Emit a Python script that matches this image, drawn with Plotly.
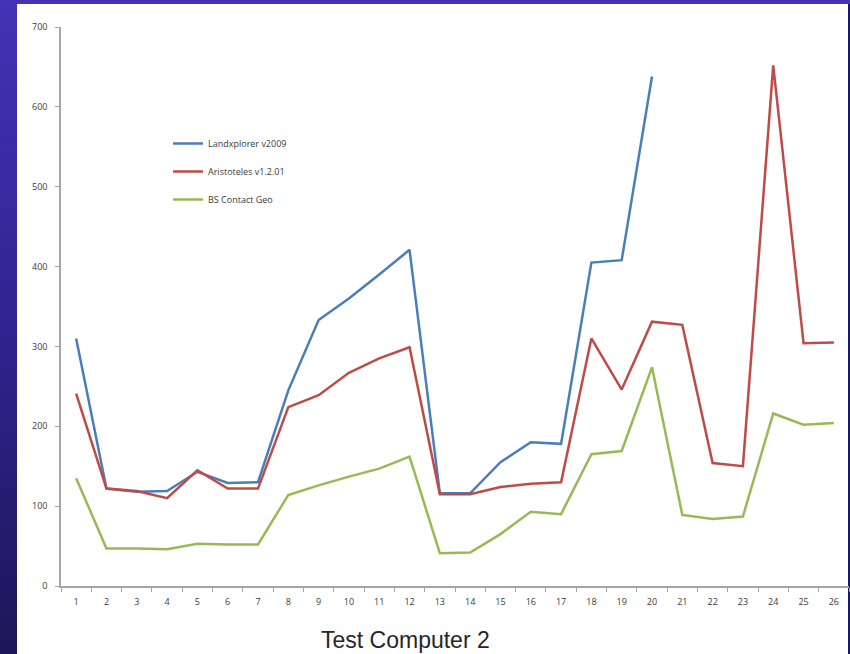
import base64
import plotly.graph_objects as go

categories = [str(i) for i in range(1, 27)]
landxplorer = [310, 122, 118, 119, 143, 129, 130, 245, 333, 360, 390, 421, 116, 116,
               155, 180, 178, 405, 408, 638, None, None, None, None, None, None]
aristoteles = [241, 122, 119, 110, 145, 122, 122, 224, 239, 267, 285, 299, 115, 115,
               124, 128, 130, 310, 246, 331, 327, 154, 150, 652, 304, 305]
bs_contact = [135, 47, 47, 46, 53, 52, 52, 114, 126, 137, 147, 162, 41, 42,
              65, 93, 90, 165, 169, 274, 89, 84, 87, 216, 202, 204]
y_ticks = [0, 100, 200, 300, 400, 500, 600, 700]
title_text = "Test Computer 2"

W, H = 850, 654
L, R, T, B = 61, 1, 27, 68
pw, ph = W - L - R, H - T - B

svg = f'''<svg xmlns="http://www.w3.org/2000/svg" width="{W}" height="{H}" viewBox="0 0 {W} {H}" preserveAspectRatio="none">
<defs><linearGradient id="g" x1="0" y1="0" x2="0" y2="1">
<stop offset="0" stop-color="#4333b6"/><stop offset="0.5" stop-color="#2f2490"/><stop offset="1" stop-color="#1c1758"/>
</linearGradient></defs>
<rect x="0" y="0" width="{W}" height="{H}" fill="url(#g)"/>
<rect x="17" y="4" width="832" height="{H}" fill="#ffffff"/>
<rect x="848" y="4" width="2" height="{H}" fill="#1c1868"/>
</svg>'''
src = "data:image/svg+xml;base64," + base64.b64encode(svg.encode()).decode()

fig = go.Figure()
series = [("Landxplorer v2009", landxplorer, "#4a7ebb"),
          ("Aristoteles v1.2.01", aristoteles, "#be4b48"),
          ("BS Contact Geo", bs_contact, "#98b954")]
for name, vals, col in series:
    fig.add_trace(go.Scatter(x=categories, y=vals, name=name, mode="lines",
                             line=dict(color=col, width=2.5), legendgroup=name,
                             connectgaps=False))

tickfont = dict(family="Open Sans", size=9, color="#3a3a3a")
fig.update_layout(
    width=W, height=H,
    margin=dict(l=L, r=R, t=T, b=B, pad=0),
    paper_bgcolor="#2f2490", plot_bgcolor="rgba(0,0,0,0)",
    images=[dict(source=src, xref="paper", yref="paper",
                 x=-L / pw, y=1 + T / ph, sizex=W / pw, sizey=H / ph,
                 xanchor="left", yanchor="top", sizing="stretch", layer="below")],
    xaxis=dict(type="category", range=[-0.5, 25.5], tickson="boundaries",
               ticks="outside", ticklen=4, tickcolor="#a6a6a6",
               showline=True, linecolor="#a6a6a6", linewidth=1.5,
               showgrid=False, zeroline=False,
               tickfont=tickfont, ticklabelstandoff=6),
    yaxis=dict(range=[0, 700], tickvals=y_ticks, ticks="outside", ticklen=4,
               tickcolor="#a6a6a6", showline=True, linecolor="#a6a6a6", linewidth=1.5,
               showgrid=False, zeroline=False,
               tickfont=tickfont, ticklabelstandoff=6),
    legend=dict(x=(168 - L) / pw, y=(586 - 129) / ph, xanchor="left", yanchor="top",
                bgcolor="rgba(0,0,0,0)", tracegroupgap=9,
                font=dict(family="Open Sans", size=9, color="#3a3a3a"),
                itemwidth=30),
    showlegend=True,
    annotations=[dict(text=title_text, xref="paper", yref="paper",
                      x=(405 - L) / pw, y=(586 - 640) / ph, xanchor="center", yanchor="middle",
                      showarrow=False,
                      font=dict(family="Liberation Sans", size=23, color="#262626"))],
)

fig.write_html("out.html", config={"displayModeBar": False},
               post_script="document.body.style.margin='0';document.body.style.overflow='hidden';")
